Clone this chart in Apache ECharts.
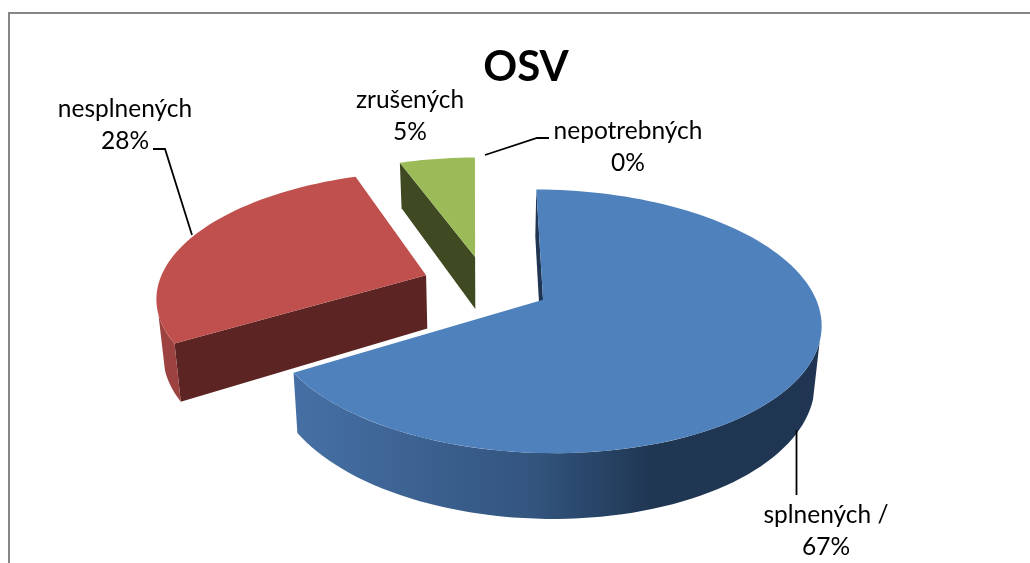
<!DOCTYPE html>
<html>
<head>
<meta charset="utf-8">
<style>
html, body { margin: 0; padding: 0; background: #fff; }
#box { width: 1030px; height: 563px; }
</style>
<script src="https://cdn.jsdelivr.net/npm/echarts@6/dist/echarts.min.js"></script>
</head>
<body>
<div id="box"></div>
<script>
var chartTitle = 'OSV';
var categories = ['splnených /', 'nesplnených', 'zrušených', 'nepotrebných'];
// percent of the circle as drawn
var values = [66.2, 28.2, 5.4, 0];
// percentages printed in the labels
var percentLabels = ['67%', '28%', '5%', '0%'];

// look of the slices: top face, curved wall, cut wall
var topColors = ['#4F81BD', '#C0504D', '#9BBB59', '#F79646'];
var wallColors = [
    { type: 'linear', x: 0, y: 0, x2: 1, y2: 0, colorStops: [
        { offset: 0, color: '#4670A5' }, { offset: 0.45, color: '#33557F' },
        { offset: 0.68, color: '#203753' }, { offset: 1, color: '#1F3552' }
    ] },
    '#9C4240', '#5F7233', '#94592A'
];
var cutColors = ['#1F3552', '#5C2523', '#3F4A22', '#7C4A1E'];

// label placement, in pixels
var labelCenters = [[826, 531], [125, 125], [410, 116], [628, 147]];
var leaders = [
    [[796.5, 430], [796.5, 495]],
    [[153, 149], [165, 149], [192, 235]],
    null,
    [[485, 155], [537, 138], [549, 138]]
];

// fake 3d camera
var cx = 486, cy = 285, rx = 268, ry = 123.5, persp = 0.16, depth = 54, shrink = 0.98;
var explode = 0.24, startDeg = 0.3;
// the curved wall is seen between these angles
var wallFrom = 108, wallTo = 252;
var total = 100;

function rad(d) { return d * Math.PI / 180; }

function project(X, D, low) {
    var s = 1 / (1 - persp * D);
    var x = rx * X * s * (low ? shrink : 1);
    return [cx + x, cy + ry * D * s + (low ? depth * s : 0)];
}

function renderSlice(params, api) {
    var i = api.value(0), v = api.value(1);
    var children = [];
    var from = startDeg;
    for (var n = 0; n < i; n++) { from += values[n] / total * 360; }
    var to = from + v / total * 360;

    if (v > 0) {
        var mid = rad((from + to) / 2);
        var ox = explode * Math.sin(mid), oy = -explode * Math.cos(mid);
        var rim = function (deg, low) {
            return project(ox + Math.sin(rad(deg)), oy - Math.cos(rad(deg)), low);
        };
        var arc = function (a, b, low) {
            var pts = [], steps = Math.max(2, Math.ceil(Math.abs(b - a) / 2));
            for (var k = 0; k <= steps; k++) { pts.push(rim(a + (b - a) * k / steps, low)); }
            return pts;
        };
        var apexTop = project(ox, oy, false), apexLow = project(ox, oy, true);

        // only the cut wall at the start angle faces the viewer
        children.push({ type: 'polygon', shape: { points: [apexTop, rim(from, false), rim(from, true), apexLow] }, style: { fill: cutColors[i] } });

        var a = Math.max(from, wallFrom), b = Math.min(to, wallTo);
        if (b > a) {
            children.push({ type: 'polygon', shape: { points: arc(a, b, false).concat(arc(b, a, true)) }, style: { fill: wallColors[i] } });
        }
        children.push({ type: 'polygon', shape: { points: [apexTop].concat(arc(from, to, false)) }, style: { fill: topColors[i] } });
    }

    if (leaders[i]) {
        children.push({ type: 'polyline', shape: { points: leaders[i] }, style: { fill: null, stroke: '#000', lineWidth: 1.8 } });
    }
    children.push({
        type: 'text',
        x: labelCenters[i][0], y: labelCenters[i][1],
        style: {
            text: categories[i] + '\n' + percentLabels[i],
            font: '24.5px Lato', lineHeight: 32, fill: '#000',
            align: 'center', verticalAlign: 'middle'
        }
    });
    return { type: 'group', children: children };
}

var myChart = echarts.init(document.getElementById('box'));
var option = {
    animation: false,
    title: {
        text: chartTitle,
        left: 521, top: 41, textAlign: 'center',
        textStyle: { fontFamily: 'Lato', fontWeight: 'bold', fontSize: 42, color: '#000' }
    },
    graphic: [{
        type: 'rect', silent: true, z: -1,
        shape: { x: 9, y: 13, width: 1060, height: 600 },
        style: { fill: '#fff', stroke: '#868686', lineWidth: 2 }
    }],
    series: [{
        type: 'custom',
        coordinateSystem: 'none',
        silent: true,
        clip: false,
        // red first, the big slice lies on top of it
        data: [3, 2, 1, 0].map(function (i) { return [i, values[i]]; }),
        encode: { value: 1 },
        renderItem: renderSlice
    }]
};
myChart.setOption(option);
</script>
</body>
</html>
